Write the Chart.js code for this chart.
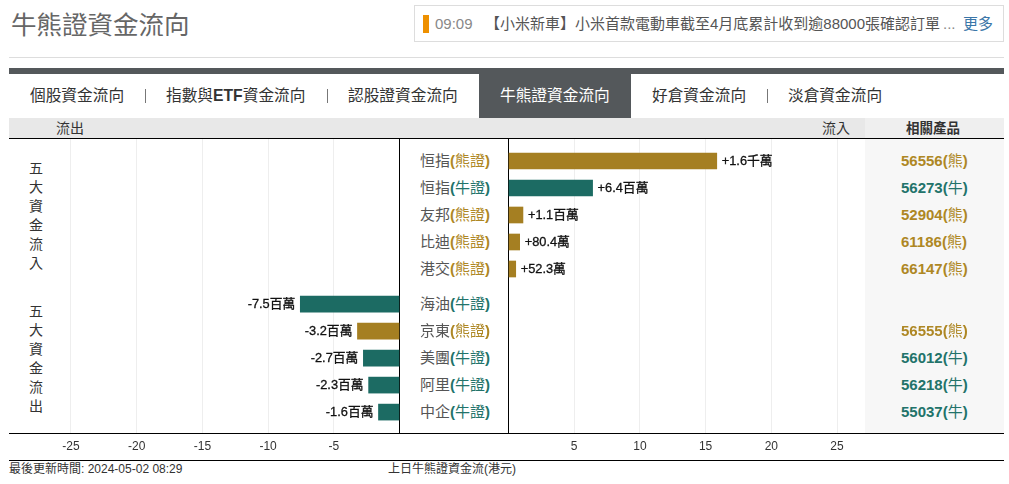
<!DOCTYPE html>
<html>
<head>
<meta charset="utf-8">
<script src="https://cdn.jsdelivr.net/npm/chart.js@4"></script>
<style>
html,body{margin:0;padding:0;background:#fff;overflow:hidden;}
body{width:1009px;height:484px;position:relative;font-family:"Liberation Sans","Noto Sans CJK TC",sans-serif;color:#333;}
.a{position:absolute;white-space:nowrap;}
canvas{position:absolute;top:139px;}
</style>
</head>
<body>
<div class="a" style="left:11px;top:9px;font-size:25.5px;line-height:32px;color:#666;">牛熊證資金流向</div>
<div class="a" style="left:9px;top:57px;width:995px;height:1px;background:#ddd;"></div>

<div class="a" style="left:414px;top:5px;width:588px;height:35px;border:1px solid #ddd;"></div>
<div class="a" style="left:423px;top:15px;width:6px;height:18px;background:#ee9000;"></div>
<div class="a" style="left:435px;top:14px;font-size:15px;line-height:20px;color:#888;">09:09</div>
<div class="a" style="left:485px;top:14px;font-size:15px;line-height:20px;color:#555;">【小米新車】小米首款電動車截至4月底累計收到逾88000張確認訂單</div>
<div class="a" style="left:943px;top:14px;font-size:15px;line-height:20px;color:#888;">...</div>
<div class="a" style="left:963px;top:14px;font-size:15px;line-height:20px;color:#3a76a8;">更多</div>

<div class="a" style="left:9px;top:68px;width:995px;height:6px;background:#54585b;"></div>
<div class="a" style="left:479px;top:74px;width:152px;height:44px;background:#54585b;"></div>
<div id="nav"></div>

<div class="a" style="left:9px;top:118px;width:856px;height:20px;background:#e8e8e8;"></div>
<div class="a" style="left:865px;top:118px;width:139px;height:20px;background:#efefef;"></div>
<div class="a" style="left:865px;top:139px;width:139px;height:294px;background:#f7f7f7;"></div>
<div class="a" style="left:56px;top:119px;font-size:14px;line-height:18px;">流出</div>
<div class="a" style="left:822px;top:119px;font-size:14px;line-height:18px;">流入</div>
<div class="a" style="left:906px;top:120px;font-size:13.5px;line-height:18px;font-weight:bold;">相關產品</div>
<div class="a" style="left:9px;top:138px;width:995px;height:1px;background:#000;"></div>
<div class="a" style="left:9px;top:433px;width:995px;height:1px;background:#000;"></div>
<div class="a" style="left:9px;top:460px;width:995px;height:1px;background:#000;"></div>

<div class="a" style="left:29px;top:159px;width:15px;font-size:14px;line-height:19px;white-space:normal;">五大資金流入</div>
<div class="a" style="left:29px;top:302px;width:15px;font-size:14px;line-height:19px;white-space:normal;">五大資金流出</div>

<div class="a" style="left:9px;top:462px;font-size:12px;line-height:15px;">最後更新時間: 2024-05-02 08:29</div>
<div class="a" style="left:388px;top:462px;font-size:12px;line-height:15px;">上日牛熊證資金流(港元)</div>

<canvas id="chartout" width="392" height="322" style="left:9px;"></canvas>
<canvas id="chartin" width="357" height="322" style="left:508px;"></canvas>
<div id="labels"></div>

<script>
//dati (valori in milioni di HKD)
const navItems = ['個股資金流向','指數與<b>ETF</b>資金流向','認股證資金流向','牛熊證資金流向','好倉資金流向','淡倉資金流向'];
const navLefts = [30,166,348,500,652,788];
const navSeps = [145,327,767];

const inNames = ['恒指','恒指','友邦','比迪','港交'];
const inTypes = ['熊','牛','熊','熊','熊'];
const inValues = [15.85,6.4,1.1,0.85,0.55];
const inLabels = ['+1.6千萬','+6.4百萬','+1.1百萬','+80.4萬','+52.3萬'];
const inCodes = ['56556','56273','52904','61186','66147'];

const outNames = ['海油','京東','美團','阿里','中企'];
const outTypes = ['牛','熊','牛','牛','牛'];
const outValues = [-7.55,-3.2,-2.75,-2.35,-1.6];
const outLabels = ['-7.5百萬','-3.2百萬','-2.7百萬','-2.3百萬','-1.6百萬'];
const outCodes = ['','56555','56012','56218','55037'];

const tipoColori = {'熊':'#a57f22','牛':'#1c6b63'};
const tipoTesto = {'熊':'#ae8724','牛':'#22736a'};
const pxUnit = 13.14;
const font = '"Liberation Sans","Noto Sans CJK TC",sans-serif';

//riga sull'asse y: tra i due gruppi c'e' un piccolo stacco
function riga(i, gruppo){
    return gruppo == 0 ? i : i + 5.3;
}

//testo del valore accanto alla barra
const etichette = {
    id:'etichette',
    afterDatasetsDraw(chart){
        const ctx = chart.ctx;
        const meta = chart.getDatasetMeta(0);
        const testi = chart.data.datasets[0].testi;
        ctx.save();
        ctx.font = '12.8px ' + font;
        ctx.fillStyle = '#111';
        ctx.strokeStyle = '#111';
        ctx.lineWidth = 0.3;
        ctx.textBaseline = 'middle';
        meta.data.forEach(function(bar,i){
            const neg = chart.data.datasets[0].data[i].x < 0;
            ctx.textAlign = neg ? 'right' : 'left';
            const tx = bar.x + (neg ? -5 : 5);
            ctx.fillText(testi[i], tx, bar.y);
            ctx.strokeText(testi[i], tx, bar.y);
        });
        ctx.restore();
    }
};

function creaGrafico(id, valori, testi, tipi, gruppo, xMin, xMax){
    return new Chart(document.getElementById(id), {
        type:'bar',
        data:{
            datasets:[{
                data:valori.map(function(v,i){ return {x:v, y:riga(i,gruppo)}; }),
                testi:testi,
                backgroundColor:tipi.map(function(t){ return tipoColori[t]; }),
                barThickness:16
            }]
        },
        options:{
            indexAxis:'y',
            responsive:false,
            animation:false,
            devicePixelRatio:1,
            layout:{padding:0},
            plugins:{legend:{display:false},tooltip:{enabled:false}},
            scales:{
                y:{type:'linear',display:false,offset:false,grid:{offset:false},reverse:true,min:-22/27,max:(251+21)/27},
                x:{
                    type:'linear',
                    min:xMin,
                    max:xMax,
                    afterFit:function(scale){
                        scale.height = 28;
                        scale.paddingLeft = 0;
                        scale.paddingRight = 0;
                    },
                    border:{display:false},
                    grid:{
                        drawTicks:false,
                        color:function(c){ return c.tick && c.tick.value === 0 ? '#000' : '#eeeeee'; }
                    },
                    ticks:{
                        stepSize:5,
                        includeBounds:false,
                        autoSkip:false,
                        maxRotation:0,
                        padding:6,
                        color:'#333',
                        font:{size:12,family:font},
                        callback:function(v){ return v === 0 ? '' : v; }
                    }
                }
            }
        },
        plugins:[etichette]
    });
}

const chartOut = creaGrafico('chartout', outValues, outLabels, outTypes, 1, -390.5/pxUnit, 1.5/pxUnit);
const chartIn = creaGrafico('chartin', inValues, inLabels, inTypes, 0, -0.5/pxUnit, 356.5/pxUnit);

//testi html
function testo(parent, left, top, html, stile){
    const d = document.createElement('div');
    d.className = 'a';
    d.style.cssText = 'left:'+left+'px;top:'+top+'px;'+stile;
    d.innerHTML = html;
    parent.appendChild(d);
}

const nav = document.getElementById('nav');
for(let i=0;i<navItems.length;i++){
    testo(nav, navLefts[i], 86, navItems[i], 'font-size:15.7px;line-height:20px;'+(i==3?'color:#fff;':'color:#333;'));
}
for(let i=0;i<navSeps.length;i++){
    testo(nav, navSeps[i], 89, '', 'width:1px;height:14px;background:#777;');
}

function righeTesto(nomi, tipi, codici, gruppo){
    const labels = document.getElementById('labels');
    for(let i=0;i<nomi.length;i++){
        const y = 139 + chartIn.scales.y.getPixelForValue(riga(i,gruppo));
        const col = tipoTesto[tipi[i]];
        testo(labels, 420, y-10, nomi[i]+'<span style="color:'+col+';"><b>(</b>'+tipi[i]+'證<b>)</b></span>', 'font-size:15px;line-height:20px;color:#555;');
        if(codici[i] != ''){
            testo(labels, 901, y-10, codici[i]+'('+'<span style="font-weight:normal;">'+tipi[i]+'</span>)', 'font-size:15px;line-height:20px;font-weight:bold;color:'+col+';');
        }
    }
}
righeTesto(inNames, inTypes, inCodes, 0);
righeTesto(outNames, outTypes, outCodes, 1);
</script>
</body>
</html>
